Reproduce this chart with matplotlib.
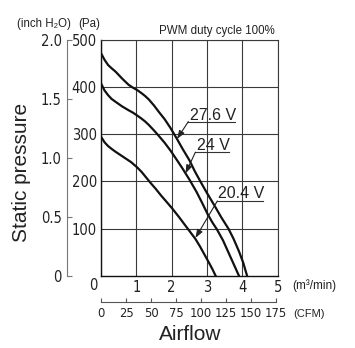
import matplotlib
matplotlib.use("Agg")
import matplotlib.pyplot as plt

# airflow (m3/min) vs static pressure (Pa)
flow_276 = [0, 0.1, 0.2, 0.3, 0.41, 0.6, 0.78, 0.9, 1.02, 1.15, 1.25, 1.35, 1.5, 1.63, 1.8,
            1.96, 2.15, 2.3, 2.5, 2.65, 2.81, 3.0, 3.2, 3.4, 3.61, 3.75, 3.9, 4.02, 4.13]
pres_276 = [472, 458, 447, 440, 433, 418, 405, 399, 394, 387, 381, 374, 361, 348, 332,
            314, 290, 270, 245, 222, 200, 175, 150, 124, 99, 78, 52, 28, 0]

flow_240 = [0, 0.1, 0.2, 0.3, 0.41, 0.6, 0.78, 0.9, 1.02, 1.15, 1.25, 1.35, 1.5, 1.63, 1.8,
            1.96, 2.15, 2.3, 2.5, 2.7, 2.85, 3.02, 3.15, 3.28, 3.45, 3.6, 3.75, 3.9]
pres_240 = [408, 393, 383, 375, 369, 359, 351, 346, 340, 333, 327, 320, 308, 297, 282,
            266, 245, 228, 204, 178, 156, 130, 113, 98, 75, 50, 25, 0]

flow_204 = [0, 0.1, 0.2, 0.3, 0.41, 0.55, 0.69, 0.85, 1.02, 1.15, 1.27, 1.4, 1.55, 1.7, 1.85,
            2.01, 2.2, 2.43, 2.55, 2.67, 2.8, 2.91, 3.05, 3.15, 3.24]
pres_204 = [295, 283, 275, 269, 263, 256, 249, 241, 230, 220, 209, 197, 184, 170, 157,
            143, 125, 102, 90, 78, 62, 47, 28, 14, 0]

series = [("27.6 V", flow_276, pres_276), ("24 V", flow_240, pres_240), ("20.4 V", flow_204, pres_204)]

m3_ticks = [0, 1, 2, 3, 4, 5]
pa_ticks = [100, 200, 300, 400, 500]
inch_ticks = [0, 0.5, 1.0, 1.5, 2.0]
inch_labels = ["0", "0.5", "1.0", "1.5", "2.0"]
cfm_ticks = [0, 25, 50, 75, 100, 125, 150, 175]

NUM = dict(family=["DejaVu Sans"], fontstretch="condensed", fontsize=10.5, color="#222222")
TXT = "#222222"
W, H = 355, 348

plt.rcParams["font.family"] = ["Liberation Sans", "DejaVu Sans"]

fig = plt.figure(figsize=(W / 100, H / 100), dpi=100)
ax = fig.add_axes([101 / W, 1 - 275.7 / H, 176.8 / W, 235.7 / H])
ax.set_xlim(0, 5)
ax.set_ylim(0, 500)

for lab, x, y in series:
    ax.plot(x, y, color="#111111", lw=1.6, solid_joinstyle="round")

ax.set_xticks(m3_ticks)
ax.set_xticklabels([""] + [str(t) for t in m3_ticks[1:]], **NUM)
ax.set_yticks(pa_ticks)
ax.set_yticklabels([str(t) for t in pa_ticks], **NUM)
ax.tick_params(length=0, pad=3)
ax.grid(True, color="#3a3a3a", lw=0.8)
for s in ["top", "right"]:
    ax.spines[s].set_color("#3a3a3a")
    ax.spines[s].set_linewidth(0.8)
for s in ["left", "bottom"]:
    ax.spines[s].set_color("#111111")
    ax.spines[s].set_linewidth(1.0)

# inch H2O axis on the far left
sy = ax.secondary_yaxis(-0.1906, functions=(lambda p: p / 250.0, lambda i: i * 250.0))
sy.set_yticks(inch_ticks)
sy.set_yticklabels(inch_labels, **NUM)
sy.tick_params(direction="in", length=3.5, width=0.8, color="#777777", pad=4)
sy.spines["left"].set_color("#777777")
sy.spines["left"].set_linewidth(0.8)
sy.spines["left"].set_bounds(0, 2.0)

# CFM axis below
sx = ax.secondary_xaxis(-0.110, functions=(lambda m: m * 35.315, lambda c: c / 35.315))
sx.set_xticks(cfm_ticks)
sx.set_xticklabels([str(t) for t in cfm_ticks], **{**NUM, "fontsize": 9.3})
sx.tick_params(direction="in", length=3, width=0.8, color="#555555", pad=4)
sx.spines["bottom"].set_color("#555555")
sx.spines["bottom"].set_linewidth(0.8)
sx.spines["bottom"].set_bounds(0, 175)

# voltage labels with underline and leader arrow
label_pos = {
    "27.6 V": ((2.53, 330), (2.47, 3.80, 327), (2.15, 290)),
    "24 V": ((2.72, 267), (2.67, 3.63, 262), (2.39, 217)),
    "20.4 V": ((3.32, 165), (3.29, 4.57, 158.5), (2.67, 80)),
}
for lab, ((tx, ty), (ux0, ux1, uy), tip) in label_pos.items():
    ax.text(tx, ty, lab, fontsize=11.5, color=TXT, ha="left", va="baseline", clip_on=False)
    ax.plot([ux0, ux1], [uy, uy], color="#333333", lw=0.8, clip_on=False)
    ax.annotate("", xy=tip, xytext=(ux0, uy),
                arrowprops=dict(arrowstyle="-|>,head_length=0.5,head_width=0.18",
                                color="#222222", lw=0.8, shrinkA=0, shrinkB=0))

def ftext(px, py, s, **kw):
    fig.text(px / W, 1 - py / H, s, **kw)

ftext(93, 285, "0", ha="center", va="center", **NUM)
ftext(17, 24, "(inch H\u2082O)", fontsize=8.3, color=TXT, ha="left", va="center")
ftext(78, 24, "(Pa)", fontsize=8.3, color=TXT, ha="left", va="center")
ftext(275, 31, "PWM duty cycle 100%", fontsize=8.3, color=TXT, ha="right", va="center")
ftext(292, 286, "(m\u00b3/min)", fontsize=8.5, color=TXT, ha="left", va="center")
ftext(293, 314, "(CFM)", fontsize=8, color=TXT, ha="left", va="center")
ftext(190, 335, "Airflow", fontsize=15, color=TXT, ha="center", va="center")
ftext(22, 172, "Static pressure", fontsize=15, color=TXT, ha="center", va="center", rotation=90)

fig.savefig("out.png", dpi=100, facecolor="white")
